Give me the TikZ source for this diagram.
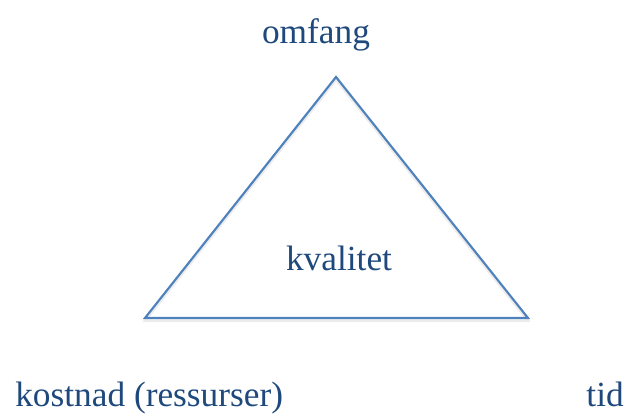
\documentclass[tikz,border=0pt]{standalone}
\usepackage{fontspec}
\setmainfont{Liberation Serif}
\definecolor{labelblue}{RGB}{31,73,125}
\definecolor{edgeblue}{RGB}{79,129,189}
\begin{document}
\begin{tikzpicture}[x=0.75pt,y=-0.75pt,
  lbl/.style={text=labelblue,font=\fontsize{26.5}{30}\selectfont,inner sep=0pt},
  side/.style={draw=edgeblue,line width=1.6pt,line join=miter}]
\useasboundingbox (0,0) rectangle (629,415);
% corners of the triangle
\coordinate (top) at (336,77);
\coordinate (bl) at (145,318);
\coordinate (br) at (528,318);
% soft shadow under the triangle
\draw[black!12,line width=2pt,opacity=0.6,transform canvas={yshift=-2pt}] (top) -- (bl) -- (br) -- cycle;
\draw[side] (top) -- (bl) -- (br) -- cycle;
% labels
\node[lbl,anchor=base] (omfang) at (316,43) {omfang};
\node[lbl,anchor=base] (kvalitet) at (339,270) {kvalitet};
\node[lbl,anchor=base west] (kostnad) at (15,406) {kostnad (ressurser)};
\node[lbl,anchor=base east] (tid) at (624,406) {tid};
\end{tikzpicture}
\end{document}
